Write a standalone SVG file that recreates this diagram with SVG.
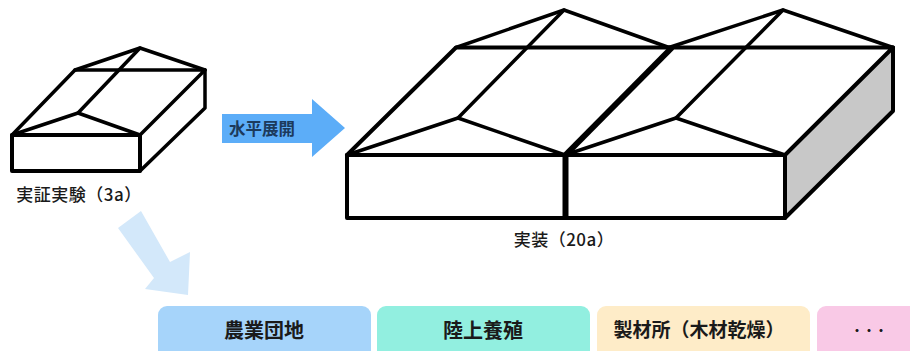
<svg xmlns="http://www.w3.org/2000/svg" width="910" height="351" viewBox="0 0 910 351">
<style>
text{font-family:"Noto Sans CJK JP","Liberation Sans",sans-serif;fill:#1a1a1a;text-anchor:middle}
.cap{font-size:17px;font-weight:500;letter-spacing:.5px}
.tag{font-size:20px;font-weight:700}
.l{fill:none;stroke:#000;stroke-linejoin:round;stroke-linecap:round}
.s{stroke-width:4}
.m{stroke-width:3.500}
.t{stroke-width:6;stroke-linecap:butt}
</style>
<rect width="910" height="351" fill="#fff"/>
<g id="small-house">
<rect x="12" y="135" width="128" height="36" fill="#fff"/>
<path class="l s" d="M12 135H140V171H12Z"/>
<path class="l m" d="M12 135L75 70H205L140 135"/>
<path class="l m" d="M205 70V108L140 171"/>
<path class="l m" d="M75 70L140 48L205 70"/>
<path class="l m" d="M140 48L78 113"/>
<path class="l m" d="M12 135L78 113L140 135"/>
</g>
<g id="large-house">
<path d="M785 155L893 47V111L785 218Z" fill="#c8c8c8"/>
<path class="l s" d="M347 155H785V218H347Z"/>
<path class="l s" d="M347 155L456 47.500H893L785 155"/>
<path class="l s" d="M893 47.500V111L785 218"/>
<path class="l m" d="M456 47.500L564 10L669 47.500"/>
<path class="l m" d="M669 47.500L783 10L893 47.500"/>
<path class="l m" d="M564 10L458 118"/>
<path class="l m" d="M783 10L676 118"/>
<path class="l m" d="M347 155L458 118L565 155"/>
<path class="l m" d="M565 155L676 118L785 155"/>
<path class="l t" d="M565.500 155V218"/>
<path class="l t" d="M565.500 155L672 47.500"/>
</g>
<g id="connectors">
<path id="arrow-horizontal" d="M222 114H312V99L345 128L312 157V143H222Z" fill="#5cadf8"/>
<path id="arrow-diagonal" d="M118 228L141 211L170 262L190 252L188 295L145 289L154 278Z" fill="#d3e8fa"/>
</g>
<g id="label-horizontal"><text x="262" y="135" font-size="16.500" font-weight="700" style="fill:#1c3a5c">水平展開</text></g>
<g id="label-small"><text class="cap" x="79" y="201">実証実験（3a）</text></g>
<g id="label-large"><text class="cap" x="564" y="246">実装（20a）</text></g>
<g id="tag-farm"><rect x="158" y="306" width="213" height="60" rx="9" fill="#a6d4fa"/><text class="tag" x="264" y="338">農業団地</text></g>
<g id="tag-aqua"><rect x="377" y="306" width="213" height="60" rx="9" fill="#92efe0"/><text class="tag" x="483" y="338">陸上養殖</text></g>
<g id="tag-mill"><rect x="597" y="306" width="213" height="60" rx="9" fill="#feecc8"/><text class="tag" x="699" y="337" style="font-size:19px">製材所（木材乾燥）</text></g>
<g id="tag-more"><rect x="817" y="306" width="110" height="60" rx="9" fill="#f9c9e6"/><text class="tag" x="869" y="336" style="font-size:12px">・・・</text></g>
</svg>
